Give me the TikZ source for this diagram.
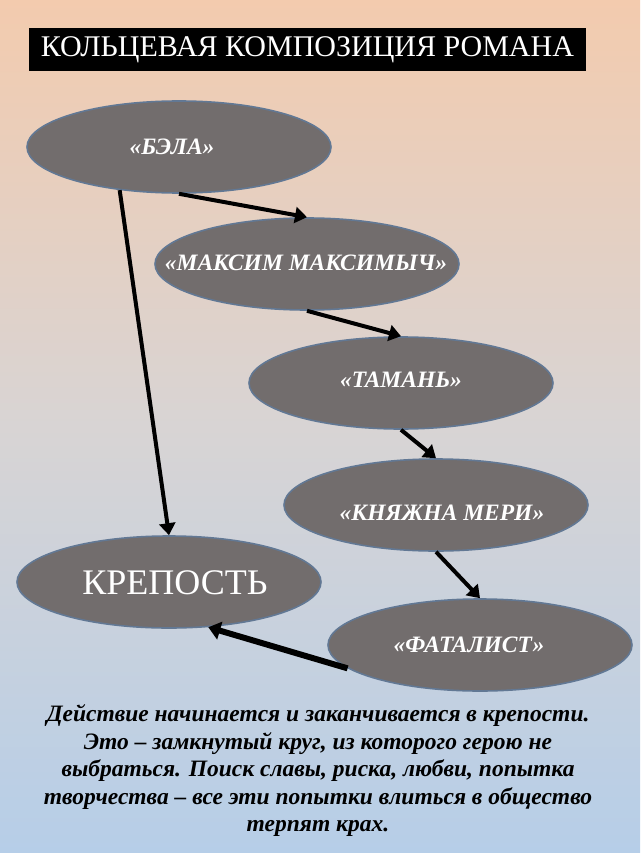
\documentclass[tikz,border=0pt]{standalone}
\usepackage{fontspec}
\setmainfont{Liberation Serif}
\usetikzlibrary{shapes.geometric,arrows.meta,shadings}
\definecolor{bgtop}{RGB}{243,203,174}
\definecolor{bgmid}{RGB}{216,212,212}
\definecolor{bgbot}{RGB}{182,206,232}
\definecolor{ellfill}{RGB}{114,109,109}
\definecolor{ellline}{RGB}{98,120,148}
\tikzset{
  chap/.style={ellipse, draw=ellline, line width=1.6pt, fill=ellfill,
    minimum width=304pt, minimum height=92pt, inner sep=0pt},
  chaptext/.style={text=white, inner sep=0pt,
    font=\fontsize{23.5}{26}\selectfont\bfseries\itshape},
  link/.style={line width=4pt, -{Triangle[length=12pt,width=16pt]}},
  biglink/.style={line width=6pt, -{Triangle[length=12pt,width=18pt]}},
}
\begin{document}
\begin{tikzpicture}[x=1pt,y=-1pt]
\shade[top color=bgtop, bottom color=bgbot, middle color=bgmid] (0,0) rectangle (640,853);
\useasboundingbox (0,0) rectangle (640,853);
\node[fill=black, minimum width=557pt, minimum height=43pt, inner sep=0pt, text=white,
  font=\fontsize{30}{34}\selectfont] (title) at (307.5,49.5) {КОЛЬЦЕВАЯ КОМПОЗИЦИЯ РОМАНА};
\node[chap] (bela) at (179,147) {};
\node[chaptext] (belat) at (172,147) {«БЭЛА»};
\node[chap] (maks) at (307,264) {};
\node[chaptext] (makst) at (306,263) {«МАКСИМ МАКСИМЫЧ»};
\node[chap] (taman) at (401,383) {};
\node[chaptext] (tamant) at (401,380) {«ТАМАНЬ»};
\node[chap] (meri) at (436,505) {};
\node[chaptext] (merit) at (442,513) {«КНЯЖНА МЕРИ»};
\node[chap] (krep) at (169,582) {};
\node[text=white, inner sep=0pt, font=\fontsize{36}{40}\selectfont] (krept) at (175,583) {КРЕПОСТЬ};
\node[chap] (fat) at (480,645) {};
\node[chaptext] (fatt) at (469,645) {«ФАТАЛИСТ»};
\draw[link] (bela.south) -- (maks.north);
\draw[link] (maks.south) -- (taman.north);
\draw[link] (taman.south) -- (meri.north);
\draw[link] (meri.south) -- (fat.north);
\draw[link] (bela.216) -- (krep.north);
\draw[biglink] (fat.190) -- (krep.-49);
\node[align=center, text=black, inner sep=0pt, font=\fontsize{23.5}{27.5}\selectfont\bfseries\itshape] (desc) at (318,771)
  {Действие начинается и заканчивается в крепости.\\
   Это – замкнутый круг, из которого герою не\\
   выбраться. Поиск славы, риска, любви, попытка\\
   творчества – все эти попытки влиться в общество\\
   терпят крах.};
\end{tikzpicture}
\end{document}
